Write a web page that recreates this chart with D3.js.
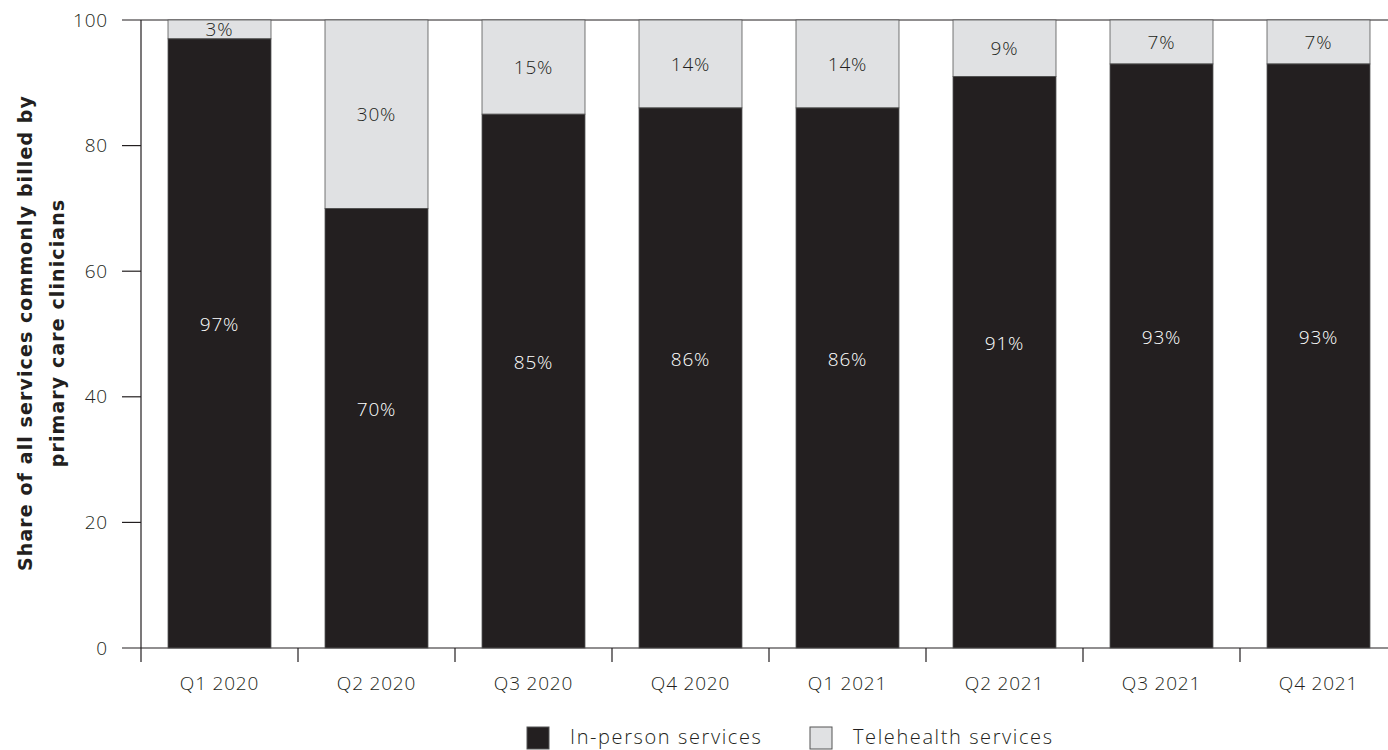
<!DOCTYPE html>
<html>
  <head>
    <title>Primary care services</title>
    <script src="https://d3js.org/d3.v7.min.js"></script>
    <style>
      body { margin: 0; background: #fff; }
      text { font-family: "Open Sans", sans-serif; font-weight: 300; letter-spacing: 0.8px; }
    </style>
  </head>
  <body>
    <svg width="1388" height="750"></svg>
    <script>
      const quarters = ['Q1 2020', 'Q2 2020', 'Q3 2020', 'Q4 2020', 'Q1 2021', 'Q2 2021', 'Q3 2021', 'Q4 2021'];
      const inPerson = [97, 70, 85, 86, 86, 91, 93, 93];
      const telehealth = [3, 30, 15, 14, 14, 9, 7, 7];
      const yTicks = [0, 20, 40, 60, 80, 100];
      const seriesNames = ['In-person services', 'Telehealth services'];

      const dark = '#231f20', light = '#e0e1e3';
      const svg = d3.select('svg');

      const x = d3.scaleBand().domain(quarters).range([141, 1397]).paddingInner(0.344).paddingOuter(0.172);
      const y = d3.scaleLinear().domain([0, 100]).range([648, 20]);

      // y axis
      svg.append('line').attr('x1', 141).attr('x2', 141).attr('y1', y(100)).attr('y2', y(0))
        .attr('stroke', dark).attr('stroke-width', 1.2);
      yTicks.forEach(t => {
        svg.append('line').attr('x1', 122).attr('x2', (t === 0 || t === 100) ? 1388 : 141)
          .attr('y1', y(t)).attr('y2', y(t)).attr('stroke', dark).attr('stroke-width', 1.2);
        svg.append('text').attr('x', 108).attr('y', y(t)).attr('dy', '0.35em')
          .attr('text-anchor', 'end').attr('font-size', 19).attr('fill', dark).text(t);
      });

      // x ticks at band edges
      quarters.forEach((q, i) => {
        const bx = i === 0 ? 141 : x(q) - (x.step() - x.bandwidth()) / 2;
        svg.append('line').attr('x1', bx).attr('x2', bx).attr('y1', y(0)).attr('y2', 662)
          .attr('stroke', dark).attr('stroke-width', 1.2);
        svg.append('text').attr('x', x(q) + x.bandwidth() / 2).attr('y', 690)
          .attr('text-anchor', 'middle').attr('font-size', 19).attr('fill', dark).text(q);
      });

      const g = svg.append('g');
      quarters.forEach((q, i) => {
        const x0 = x(q), w = x.bandwidth();
        g.append('rect').attr('x', x0).attr('width', w)
          .attr('y', y(inPerson[i] + telehealth[i])).attr('height', y(inPerson[i]) - y(inPerson[i] + telehealth[i]))
          .attr('fill', light).attr('stroke', '#555').attr('stroke-width', 0.8);
        g.append('rect').attr('x', x0).attr('width', w)
          .attr('y', y(inPerson[i])).attr('height', y(0) - y(inPerson[i]))
          .attr('fill', dark).attr('stroke', '#555').attr('stroke-width', 0.8);
        g.append('text').attr('x', x0 + w / 2).attr('y', y(inPerson[i] / 2 + 3)).attr('dy', '0.35em')
          .attr('text-anchor', 'middle').attr('font-size', 19).attr('fill', '#fff').text(inPerson[i] + '%');
        g.append('text').attr('x', x0 + w / 2).attr('y', y(inPerson[i] + telehealth[i] / 2)).attr('dy', '0.35em')
          .attr('text-anchor', 'middle').attr('font-size', 19).attr('fill', dark).text(telehealth[i] + '%');
      });

      // y axis title
      const title = svg.append('text').attr('transform', 'translate(41,333) rotate(-90)')
        .attr('text-anchor', 'middle').attr('font-size', 19).attr('fill', dark)
        .style('font-family', '"DejaVu Sans", sans-serif').style('font-weight', 700)
        .style('letter-spacing', '1.1px');
      title.append('tspan').attr('x', 0).attr('y', -9).text('Share of all services commonly billed by');
      title.append('tspan').attr('x', 0).attr('y', 23).text('primary care clinicians');

      // legend
      const legendX = [527, 810];
      seriesNames.forEach((name, i) => {
        svg.append('rect').attr('x', legendX[i]).attr('y', 727).attr('width', 22).attr('height', 22)
          .attr('fill', i === 0 ? dark : light).attr('stroke', '#555').attr('stroke-width', 1);
        svg.append('text').attr('x', legendX[i] + 43).attr('y', 744)
          .attr('font-size', 20).style('letter-spacing', '1.6px').attr('fill', dark).text(name);
      });
    </script>
  </body>
</html>
